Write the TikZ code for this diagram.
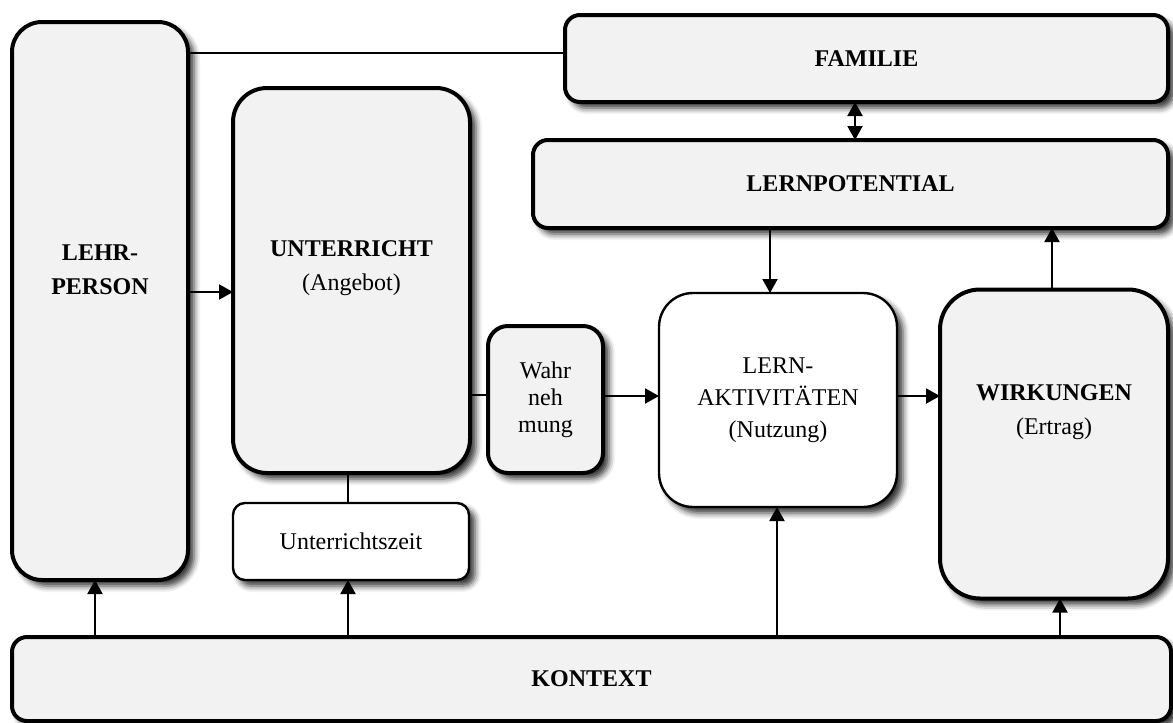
\documentclass[tikz,border=0pt]{standalone}
\usepackage{fontspec}
\setmainfont{Liberation Serif}
\usepackage{xcolor}
\usetikzlibrary{arrows.meta, positioning, shadows.blur}
\definecolor{boxgray}{HTML}{F2F2F2}

\begin{document}
\begin{tikzpicture}[
  x=0.5pt, y=-0.5pt,
  block/.style={draw, line width=2pt, fill=boxgray, rounded corners=15pt, inner sep=0pt, outer sep=0pt,
    align=center, font=\fontsize{12}{16.5}\selectfont,
    blur shadow={shadow xshift=3pt, shadow yshift=-3pt, shadow blur radius=3pt, shadow opacity=80}},
  lightblock/.style={block, line width=1.2pt, fill=white},
  txt/.style={align=center, font=\fontsize{12}{17}\selectfont},
  arr/.style={-{Triangle[length=7pt, width=7.5pt]}, line width=1pt},
  link/.style={line width=0.7pt}
]
\useasboundingbox (0,0) rectangle (1173,723);

\node[block, minimum width=88pt, minimum height=279pt,
  label={[txt, yshift=15.5pt]center:\textbf{LEHR-}\\\textbf{PERSON}}] (lehr) at (100,301) {};
\node[block, minimum width=118.5pt, minimum height=192.5pt, rounded corners=17pt,
  label={[txt, yshift=6pt]center:\textbf{UNTERRICHT}\\(Angebot)}] (unt) at (351.5,280.5) {};
\node[lightblock, minimum width=118pt, minimum height=38.5pt, rounded corners=6pt] (zeit) at (351,541.5) {Unterrichtszeit};
\node[block, minimum width=57.5pt, minimum height=73.5pt, rounded corners=10pt,
  font=\fontsize{12}{13.5}\selectfont] (wahr) at (545.5,399.5) {Wahr\\neh\\mung};
\node[lightblock, minimum width=119pt, minimum height=107pt, rounded corners=17pt,
  font=\fontsize{12}{16}\selectfont] (lern) at (778,400) {LERN-\\AKTIVITÄTEN\\(Nutzung)};
\node[block, minimum width=114pt, minimum height=154.5pt, rounded corners=20pt,
  label={[txt, yshift=16pt]center:\textbf{WIRKUNGEN}\\(Ertrag)}] (wirk) at (1054,444) {};
\node[block, minimum width=301.5pt, minimum height=43.5pt, rounded corners=7.5pt] (fam) at (866.5,58.5) {\textbf{FAMILIE}};
\node[block, minimum width=317.5pt, minimum height=44pt, rounded corners=7.5pt] (pot) at (850.5,184) {\textbf{LERNPOTENTIAL}};
\node[block, minimum width=579.5pt, minimum height=42pt, rounded corners=7.5pt] (kon) at (591.5,679) {\textbf{KONTEXT}};

% Verbindungen
\draw[link] (lehr.east |- 0,53) -- (fam.west |- 0,53);
\draw[arr] (lehr.east |- 0,292) -- (unt.west |- 0,292);
\draw[link] (unt.east |- 0,395) -- (wahr.west |- 0,395);
\draw[arr] (wahr.east |- 0,396) -- (lern.west |- 0,396);
\draw[arr] (lern.east |- 0,396) -- (wirk.west |- 0,396);
\draw[link] (unt.south -| 348,0) -- (zeit.north -| 348,0);
\draw[arr] (pot.south -| 770,0) -- (lern.north -| 770,0);
\draw[arr] (wirk.north -| 1052,0) -- (pot.south -| 1052,0);
\draw[arr, {Triangle[length=7pt, width=7.5pt]}-{Triangle[length=7pt, width=7.5pt]}] (fam.south -| 855,0) -- (pot.north -| 855,0);

% Kontext
\draw[arr] (kon.north -| 95,0) -- (lehr.south -| 95,0);
\draw[arr] (kon.north -| 348,0) -- (zeit.south -| 348,0);
\draw[arr] (kon.north -| 777,0) -- (lern.south -| 777,0);
\draw[arr] (kon.north -| 1060,0) -- (wirk.south -| 1060,0);
\end{tikzpicture}
\end{document}
